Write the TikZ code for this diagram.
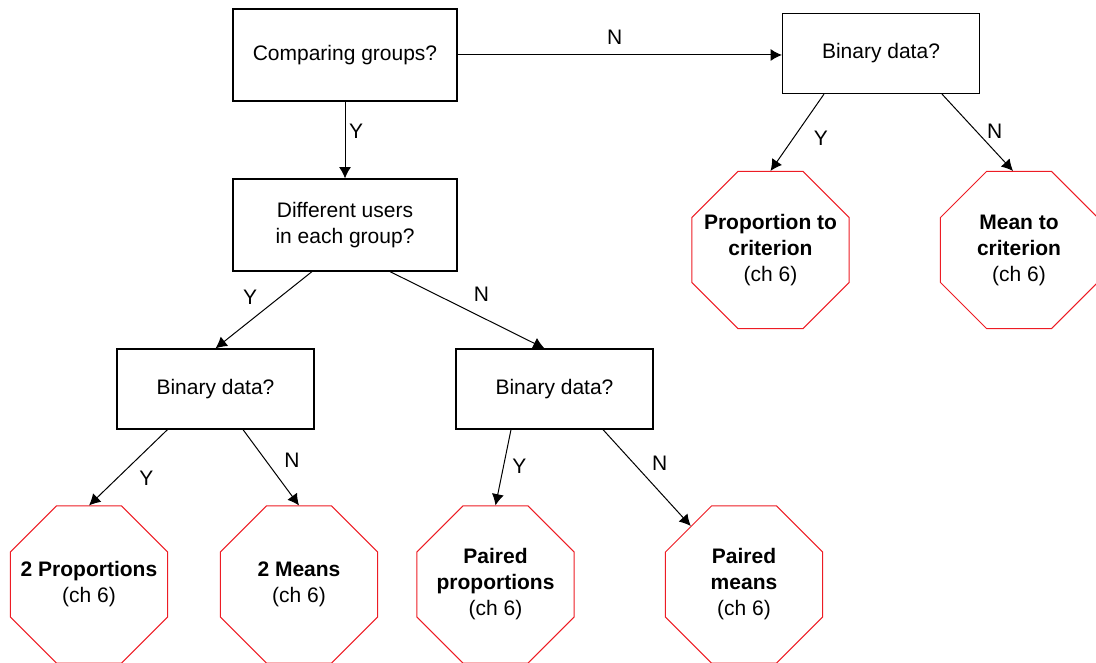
\documentclass[tikz,border=0pt]{standalone}
\usepackage{fontspec}
\setmainfont{Liberation Sans}
\usetikzlibrary{shapes.geometric,arrows.meta,calc}
\definecolor{stopred}{RGB}{237,28,36}
\newcommand{\qwide}{168pt}
\newcommand{\qhigh}{69pt}
\newcommand{\bwide}{147.75pt}
\newcommand{\bhigh}{60pt}
\newcommand{\octsize}{127.5pt}

\begin{document}
\begin{tikzpicture}[x=0.75pt, y=-0.75pt, >={Latex[length=8.5pt,width=9pt]},
    font={\fontsize{15.75}{19.5}\selectfont},
    question/.style={draw, line width=0.9pt, inner sep=0pt, align=center},
    octagon/.style={draw=stopred, line width=0.75pt, regular polygon, regular polygon sides=8,
        minimum size=\octsize, inner sep=-14pt, align=center},
    link/.style={->, line width=0.75pt},
    answer/.style={inner sep=0pt}]
        \useasboundingbox (0, 0) rectangle (1096, 663);

        % questions
        \node[question, minimum width=\qwide, minimum height=\qhigh] (cmp) at (345, 55) {Comparing groups?};
        \node[question, minimum width=\qwide, minimum height=\qhigh] (users) at (345, 225) {Different users\\in each group?};
        \node[question, minimum width=\bwide, minimum height=\bhigh] (bin0) at (881, 53.5) {Binary data?};
        \node[question, minimum width=\bwide, minimum height=\bhigh] (binL) at (215.5, 389) {Binary data?};
        \node[question, minimum width=\bwide, minimum height=\bhigh] (binM) at (554.5, 389) {Binary data?};

        % outcomes
        \node[octagon] (propcrit) at (770.5, 250) {\textbf{Proportion to}\\\textbf{criterion}\\(ch 6)};
        \node[octagon] (meancrit) at (1019, 250) {\textbf{Mean to}\\\textbf{criterion}\\(ch 6)};
        \node[octagon] (twoprop) at (89, 584.5) {\textbf{2 Proportions}\\(ch 6)};
        \node[octagon] (twomean) at (299, 584.5) {\textbf{2 Means}\\(ch 6)};
        \node[octagon] (pairprop) at (495.5, 584.5) {\textbf{Paired}\\\textbf{proportions}\\(ch 6)};
        \node[octagon] (pairmean) at (744, 584.5) {\textbf{Paired}\\\textbf{means}\\(ch 6)};

        % arrows with answers
        \draw[link] (cmp.east) -- (cmp.east -| bin0.west) node[answer, midway, shift={(-5,-18)}] {N};
        \draw[link] (cmp.south) -- (users.north) node[answer, pos=0.38, shift={(11,0)}] {Y};
        \draw[link] ($(users.south)+(-33,0)$) -- (binL.north) node[answer, pos=0.33, shift={(-30,0)}] {Y};
        \draw[link] ($(users.south)+(45,0)$) -- ($(binM.north)+(-10,0)$) node[answer, pos=0.3, shift={(45,0)}] {N};
        \draw[link] ($(binL.south)+(-48,0)$) -- (twoprop.north) node[answer, pos=0.64, shift={(29,0)}] {Y};
        \draw[link] ($(binL.south)+(27.5,0)$) -- (twomean.north) node[answer, pos=0.41, shift={(26,0)}] {N};
        \draw[link] ($(binM.south)+(-43.5,0)$) -- (pairprop.north) node[answer, pos=0.49, shift={(16,0)}] {Y};
        \draw[link] ($(binM.south)+(48.5,0)$) -- (pairmean) node[answer, pos=0.35, shift={(26,0)}] {N};
        \draw[link] ($(bin0.south)+(-57,0)$) -- (propcrit.north) node[answer, pos=0.58, shift={(28,0)}] {Y};
        \draw[link] ($(bin0.south)+(61,0)$) -- ($(meancrit.north)+(-6,0)$) node[answer, pos=0.49, shift={(18,0)}] {N};
    \end{tikzpicture}
\end{document}
